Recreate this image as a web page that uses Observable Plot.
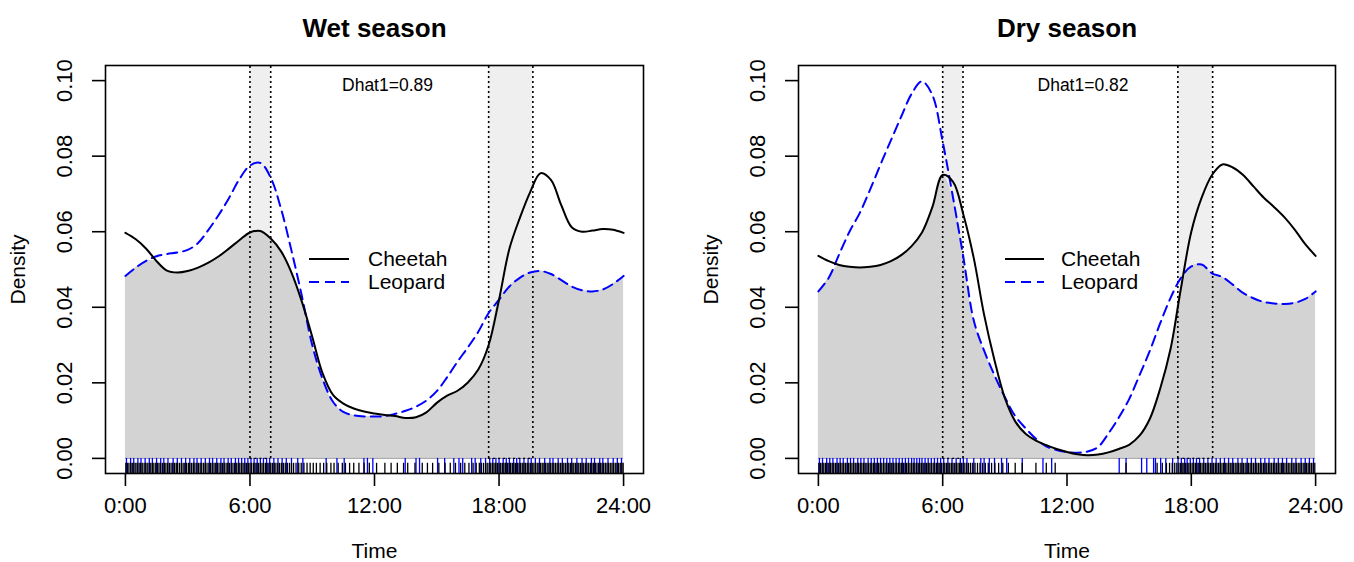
<!DOCTYPE html>
<html><head><meta charset="utf-8">
<script src="https://cdn.jsdelivr.net/npm/d3@7"></script>
<script src="https://cdn.jsdelivr.net/npm/@observablehq/plot@0.6"></script>
<style>
body{margin:0;background:#fff;font-family:"Liberation Sans",Arial,sans-serif;}
#wrap{position:relative;width:1354px;height:562px;display:flex;}
.panel{position:relative;width:677px;height:562px;}
.legend{position:absolute;left:0;top:0;pointer-events:none;}
</style></head><body>
<div id="wrap"><div class="panel" id="p1"></div><div class="panel" id="p2"></div></div>
<script>
// time grid (hours)
const hours = [0,0.5,1,1.5,2,2.5,3,3.5,4,4.5,5,5.5,6,6.5,7,7.5,8,8.5,9,9.5,10,10.5,11,11.5,12,12.5,13,13.5,14,14.5,15,15.5,16,16.5,17,17.5,18,18.5,19,19.5,20,20.5,21,21.5,22,22.5,23,23.5,24];

// Wet season densities
const wetCheetah = [0.0597,0.0580,0.0555,0.0522,0.0497,0.0492,0.0496,0.0505,0.0518,0.0535,0.0556,0.0578,0.0598,0.0602,0.0582,0.0548,0.0492,0.0415,0.0322,0.0225,0.0168,0.0145,0.0132,0.0124,0.0119,0.0115,0.0112,0.0107,0.0109,0.0122,0.0147,0.0166,0.0179,0.0201,0.0235,0.0300,0.0420,0.0555,0.0636,0.0705,0.0755,0.0737,0.0670,0.0612,0.0600,0.0603,0.0607,0.0605,0.0597];
const wetLeopard = [0.0483,0.0505,0.0523,0.0535,0.0541,0.0545,0.0552,0.0570,0.0605,0.0645,0.0690,0.0740,0.0775,0.0782,0.0743,0.0660,0.0550,0.0430,0.0300,0.0210,0.0150,0.0123,0.0114,0.0111,0.0111,0.0112,0.0118,0.0126,0.0137,0.0153,0.0178,0.0215,0.0256,0.0294,0.0335,0.0385,0.0420,0.0455,0.0478,0.0492,0.0496,0.0488,0.0472,0.0455,0.0445,0.0442,0.0447,0.0462,0.0483];

// Dry season densities
const dryCheetah = [0.0536,0.0522,0.0512,0.0507,0.0505,0.0507,0.0512,0.0522,0.0538,0.0562,0.0598,0.0665,0.0750,0.0732,0.0645,0.0530,0.0380,0.0260,0.0160,0.0098,0.0065,0.0047,0.0035,0.0025,0.0017,0.0011,0.0008,0.0010,0.0016,0.0025,0.0036,0.0060,0.0105,0.0185,0.0290,0.0450,0.0600,0.0690,0.0750,0.0778,0.0770,0.0750,0.0720,0.0690,0.0665,0.0638,0.0605,0.0567,0.0536];
const dryLeopard = [0.0442,0.0478,0.0540,0.0600,0.0650,0.0712,0.0778,0.0842,0.0905,0.0965,0.0998,0.0962,0.0838,0.0690,0.0532,0.0365,0.0285,0.0220,0.0162,0.0112,0.0080,0.0052,0.0032,0.0022,0.0017,0.0015,0.0018,0.0030,0.0066,0.0108,0.0157,0.0220,0.0285,0.0358,0.0425,0.0478,0.0508,0.0513,0.0490,0.0480,0.0460,0.0438,0.0424,0.0414,0.0410,0.0409,0.0412,0.0422,0.0442];

// Rug observations (hours)
const wetRugCheetah = [0.02,0.1,0.17,0.26,0.33,0.41,0.5,0.57,0.66,0.73,0.81,0.9,0.98,1.05,1.14,1.22,1.3,1.37,1.46,1.55,1.62,1.7,1.79,1.88,1.95,2.03,2.12,2.2,2.28,2.37,2.45,2.52,2.61,2.7,2.78,2.86,2.94,3.03,3.1,3.19,3.27,3.35,3.44,3.52,3.6,3.68,3.77,3.85,3.93,4.02,4.1,4.18,4.27,4.35,4.43,4.51,4.6,4.68,4.76,4.85,4.93,5.01,5.1,5.18,5.26,5.34,5.43,5.51,5.59,5.67,5.76,5.84,5.92,6.0,6.08,6.17,6.25,6.33,6.41,6.5,6.58,6.66,6.75,6.83,6.91,7.0,7.08,7.17,7.25,7.34,7.43,7.52,7.61,7.7,7.8,7.9,8.0,8.1,8.22,8.35,8.47,8.6,8.75,8.9,9.05,9.2,9.38,9.55,9.7,9.9,10.05,10.25,10.45,10.6,10.8,11.0,11.25,11.5,11.75,12.1,12.5,12.8,13.1,13.4,13.6,13.95,14.3,14.55,14.8,15.1,15.4,15.65,15.9,16.15,16.35,16.55,16.75,16.9,17.05,17.15,17.25,17.35,17.43,17.52,17.6,17.68,17.76,17.84,17.92,18.0,18.08,18.16,18.24,18.32,18.4,18.48,18.56,18.64,18.72,18.8,18.88,18.96,19.04,19.12,19.2,19.28,19.36,19.44,19.52,19.6,19.68,19.76,19.84,19.92,20.0,20.08,20.16,20.24,20.32,20.4,20.48,20.56,20.64,20.72,20.8,20.88,20.96,21.04,21.12,21.2,21.28,21.36,21.44,21.52,21.6,21.68,21.76,21.84,21.92,22.0,22.08,22.16,22.24,22.32,22.4,22.48,22.56,22.64,22.72,22.8,22.88,22.96,23.04,23.12,23.2,23.28,23.36,23.44,23.52,23.6,23.68,23.76,23.84,23.92,23.98];
const wetRugLeopard = [0.05,0.25,0.4,0.6,0.75,0.95,1.15,1.3,1.5,1.7,1.85,2.05,2.3,2.5,2.7,2.9,3.1,3.3,3.45,3.65,3.85,4.05,4.2,4.4,4.6,4.75,4.95,5.1,5.3,5.45,5.6,5.75,5.9,6.05,6.2,6.35,6.5,6.65,6.8,6.95,7.15,7.35,7.55,7.75,8.0,8.3,8.55,9.67,10.19,10.54,11.49,11.66,11.92,13.48,14.0,14.17,15.04,15.38,15.82,16.07,16.25,16.68,16.85,17.12,17.35,17.55,17.7,17.85,18.0,18.2,18.35,18.5,18.7,18.85,19.0,19.2,19.4,19.55,19.75,19.95,20.2,20.45,20.6,20.85,21.05,21.3,21.5,21.75,22.0,22.2,22.45,22.6,22.85,23.0,23.25,23.5,23.7,23.9];
const dryRugCheetah = [0.02,0.1,0.18,0.26,0.34,0.42,0.5,0.58,0.66,0.74,0.82,0.9,0.98,1.06,1.14,1.22,1.3,1.38,1.46,1.54,1.62,1.7,1.78,1.86,1.94,2.02,2.1,2.18,2.26,2.34,2.42,2.5,2.58,2.66,2.74,2.82,2.9,2.98,3.06,3.14,3.22,3.3,3.38,3.46,3.54,3.62,3.7,3.78,3.86,3.94,4.02,4.1,4.18,4.26,4.34,4.42,4.5,4.58,4.66,4.74,4.82,4.9,4.98,5.06,5.14,5.22,5.3,5.38,5.46,5.54,5.62,5.7,5.78,5.86,5.94,6.02,6.1,6.18,6.26,6.34,6.42,6.5,6.58,6.66,6.74,6.82,6.9,6.98,7.07,7.16,7.25,7.35,7.45,7.56,7.68,7.8,7.93,8.06,8.2,8.36,8.52,8.7,8.9,9.17,9.5,9.84,10.5,11.0,11.43,14.85,16.35,16.6,16.8,16.95,17.08,17.2,17.3,17.4,17.48,17.56,17.64,17.72,17.8,17.88,17.96,18.04,18.12,18.2,18.28,18.36,18.44,18.52,18.6,18.68,18.76,18.84,18.92,19.0,19.08,19.16,19.24,19.32,19.4,19.48,19.56,19.64,19.72,19.8,19.88,19.96,20.04,20.12,20.2,20.28,20.36,20.44,20.52,20.6,20.68,20.76,20.84,20.92,21.0,21.08,21.16,21.24,21.32,21.4,21.48,21.56,21.64,21.72,21.8,21.88,21.96,22.04,22.12,22.2,22.28,22.36,22.44,22.52,22.6,22.68,22.76,22.84,22.92,23.0,23.08,23.16,23.24,23.32,23.4,23.48,23.56,23.64,23.72,23.8,23.88,23.96];
const dryRugLeopard = [0.05,0.2,0.4,0.55,0.7,0.9,1.05,1.2,1.4,1.55,1.7,1.9,2.05,2.2,2.4,2.55,2.7,2.85,3.0,3.15,3.3,3.45,3.6,3.75,3.9,4.05,4.2,4.35,4.5,4.62,4.75,4.88,5.0,5.15,5.3,5.45,5.6,5.75,5.9,6.05,6.25,6.45,6.65,6.85,7.0,7.17,7.5,7.84,8.0,8.25,8.5,8.84,9.09,9.84,10.84,11.26,14.52,14.85,15.6,15.85,16.18,16.27,16.52,16.77,17.1,17.36,17.52,17.68,17.8,17.95,18.1,18.25,18.4,18.6,18.8,19.0,19.2,19.4,19.6,19.8,20.0,20.25,20.45,20.7,20.9,21.1,21.35,21.55,21.75,22.0,22.2,22.4,22.6,22.85,23.05,23.3,23.5,23.7,23.9];

// Twilight bands (hours)
const wetBands = [[6.0, 7.0], [17.5, 19.63]];
const dryBands = [[6.0, 6.98], [17.35, 19.03]];

// Labels
const titles = ["Wet season", "Dry season"];
const dhats = ["Dhat1=0.89", "Dhat1=0.82"];
const seriesNames = ["Cheetah", "Leopard"];
const xTicks = [0, 6, 12, 18, 24];
const xLabels = ["0:00", "6:00", "12:00", "18:00", "24:00"];
const yTicks = [0, 0.02, 0.04, 0.06, 0.08, 0.10];
const yLabels = ["0.00", "0.02", "0.04", "0.06", "0.08", "0.10"];

const FONT = '"Liberation Sans", Arial, Helvetica, sans-serif';
const BLUE = "#0000ff";

function panel(el, title, dhat, cheetah, leopard, rugC, rugL, bands, o) {
  const rows = hours.map((h, i) => ({h, c: cheetah[i], l: leopard[i], m: Math.min(cheetah[i], leopard[i])}));
  const bandRows = bands.map(([a, b]) => ({a, b}));
  const top = 0.104, bottom = -0.004;
  const chart = Plot.plot({
    width: 677, height: 562,
    marginLeft: o.ml, marginRight: o.mr, marginTop: 65, marginBottom: 89,
    x: {domain: [-0.96, 24.96]},
    y: {domain: [bottom, top]},
    style: {fontFamily: FONT, background: "white", color: "black"},
    marks: [
      Plot.rectY(bandRows, {x1: "a", x2: "b", y1: 0, y2: top, fill: "#efefef"}),
      Plot.areaY(rows, {x: "h", y1: 0, y2: "m", fill: "#d3d3d3", curve: "catmull-rom"}),
      Plot.ruleY([0], {x1: 0, x2: 24, stroke: "#a0a0a0", strokeWidth: 1}),
      Plot.ruleX(rugL, {x: d => d, y1: 0, y2: bottom, stroke: BLUE, strokeWidth: 1.3}),
      Plot.ruleX(rugC, {x: d => d, y1: -0.0013, y2: bottom, stroke: "black", strokeWidth: 1.3}),
      Plot.ruleX(bands.flat(), {x: d => d, y1: 0, y2: top, stroke: "black", strokeWidth: 1.6, strokeDasharray: "2,3"}),
      Plot.ruleY(bandRows, {y: 0, x1: "a", x2: "b", stroke: "black", strokeWidth: 1.2, strokeDasharray: "2,3"}),
      Plot.line(rows, {x: "h", y: "l", stroke: BLUE, strokeWidth: 2, strokeDasharray: "10,6", curve: "catmull-rom"}),
      Plot.line(rows, {x: "h", y: "c", stroke: "black", strokeWidth: 2, curve: "catmull-rom"}),
      Plot.frame({stroke: "black", strokeWidth: 1.6}),
      Plot.axisX({ticks: xTicks, tickFormat: d => xLabels[xTicks.indexOf(d)], tickSize: 13, tickPadding: 11, fontSize: 22, label: null, strokeWidth: 1.6}),
      Plot.axisY({ticks: yTicks, tickFormat: () => "", tickSize: 13, label: null, strokeWidth: 1.6}),
      Plot.text(yTicks, {y: d => d, text: d => yLabels[yTicks.indexOf(d)], frameAnchor: "left", textAnchor: "middle", lineAnchor: "middle", dx: -41, rotate: -90, fontSize: 22}),
      Plot.text([title], {text: d => d, frameAnchor: "top", textAnchor: "middle", lineAnchor: "middle", dy: -37, fontSize: 26, fontWeight: "bold"}),
      Plot.text(["Time"], {text: d => d, frameAnchor: "bottom", textAnchor: "middle", lineAnchor: "middle", dy: 78, fontSize: 21}),
      Plot.text(["Density"], {text: d => d, frameAnchor: "left", textAnchor: "middle", lineAnchor: "middle", dx: -87, rotate: -90, fontSize: 21}),
      Plot.text([dhat], {text: d => d, frameAnchor: "top", textAnchor: "middle", lineAnchor: "middle", dx: o.dhatDx, dy: 20, fontSize: 17.5})
    ]
  });
  el.appendChild(chart);
  // legend overlay
  const ns = "http://www.w3.org/2000/svg";
  const svg = document.createElementNS(ns, "svg");
  svg.setAttribute("class", "legend");
  svg.setAttribute("width", 677); svg.setAttribute("height", 562);
  const L = o.legend;
  const items = [{name: seriesNames[0], y: L.y1, stroke: "black", dash: null},
                 {name: seriesNames[1], y: L.y2, stroke: BLUE, dash: "10,6"}];
  for (const it of items) {
    const ln = document.createElementNS(ns, "line");
    ln.setAttribute("x1", L.x1); ln.setAttribute("x2", L.x2);
    ln.setAttribute("y1", it.y); ln.setAttribute("y2", it.y);
    ln.setAttribute("stroke", it.stroke); ln.setAttribute("stroke-width", 2);
    if (it.dash) ln.setAttribute("stroke-dasharray", it.dash);
    svg.appendChild(ln);
    const tx = document.createElementNS(ns, "text");
    tx.setAttribute("x", L.tx); tx.setAttribute("y", it.y);
    tx.setAttribute("dy", "0.35em");
    tx.setAttribute("font-size", 21);
    tx.setAttribute("font-family", FONT);
    tx.textContent = it.name;
    svg.appendChild(tx);
  }
  el.appendChild(svg);
}

panel(document.getElementById("p1"), titles[0], dhats[0], wetCheetah, wetLeopard, wetRugCheetah, wetRugLeopard, wetBands,
  {ml: 105, mr: 34, dhatDx: 13, legend: {x1: 309, x2: 349, tx: 368, y1: 259, y2: 282}});
panel(document.getElementById("p2"), titles[1], dhats[1], dryCheetah, dryLeopard, dryRugCheetah, dryRugLeopard, dryBands,
  {ml: 121, mr: 19, dhatDx: 16, legend: {x1: 328, x2: 367, tx: 384, y1: 259, y2: 282}});
</script>
</body></html>
